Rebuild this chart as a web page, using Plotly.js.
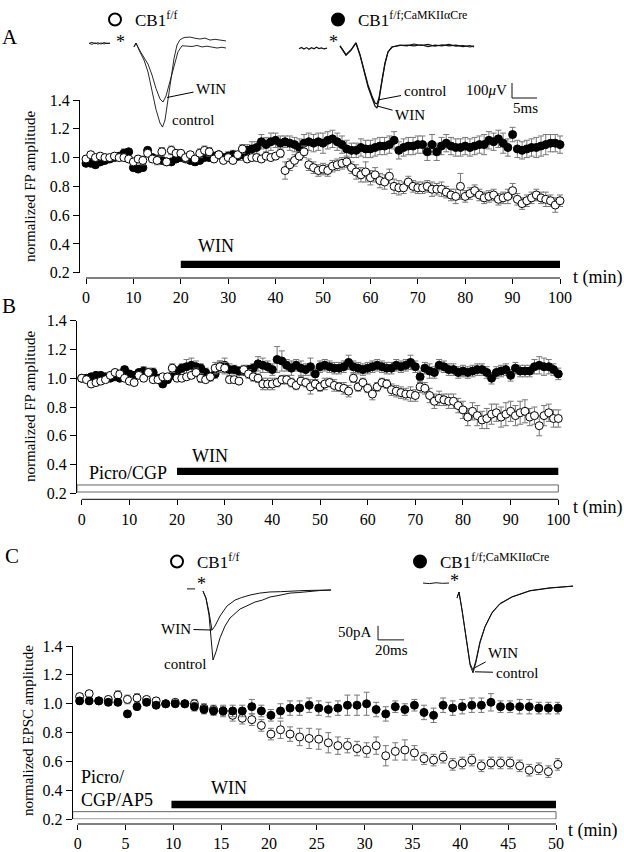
<!DOCTYPE html>
<html><head><meta charset="utf-8">
<script src="https://cdn.plot.ly/plotly-3.0.1.min.js"></script>
<style>html,body{margin:0;padding:0;background:#fff}#chart{width:624px;height:852px}</style>
</head><body><div id="chart"></div>
<script>
// ================= DATA =================
const timeAB = [0,1,2,3,4,5,6,7,8,9,10,11,12,13,14,15,16,17,18,19,20,21,22,23,24,25,26,27,28,29,30,31,32,33,34,35,36,37,38,39,40,41,42,43,44,45,46,47,48,49,50,51,52,53,54,55,56,57,58,59,60,61,62,63,64,65,66,67,68,69,70,71,72,73,74,75,76,77,78,79,80,81,82,83,84,85,86,87,88,89,90,91,92,93,94,95,96,97,98,99,100];
const timeC = [0.2,1.2,2.2,3.2,4.2,5.2,6.2,7.2,8.2,9.2,10.2,11.2,12.2,13.2,14.2,15.2,16.2,17.2,18.2,19.2,20.2,21.2,22.2,23.2,24.2,25.2,26.2,27.2,28.2,29.2,30.2,31.2,32.2,33.2,34.2,35.2,36.2,37.2,38.2,39.2,40.2,41.2,42.2,43.2,44.2,45.2,46.2,47.2,48.2,49.2,50.2];

// Panel A (normalized FP amplitude)
const openA = [0.99,1.02,1.0,1.01,1.0,1.0,1.01,1.0,1.0,0.99, 0.97,0.99,0.98,1.03,0.99,0.98,1.04,0.97,1.05,1.03, 1.03,1.0,1.02,0.99,1.03,1.05,1.04,0.99,1.02,0.98, 1.0,0.98,1.02,1.06,0.99,1.0,1.0,0.99,1.01,1.0, 1.01,1.03,0.91,0.95,0.98,1.01,1.04,0.95,0.93,0.91, 0.92,0.91,0.94,0.95,0.96,0.97,0.93,0.90,0.88,0.90, 0.86,0.88,0.84,0.83,0.87,0.80,0.79,0.79,0.83,0.80, 0.79,0.79,0.80,0.78,0.78,0.78,0.76,0.74,0.73,0.80, 0.73,0.75,0.77,0.74,0.72,0.73,0.74,0.71,0.72,0.73, 0.77,0.71,0.68,0.70,0.72,0.74,0.72,0.71,0.70,0.67, 0.70];
const openAErr = [0.02,0.02,0.02,0.02,0.02,0.02,0.02,0.02,0.02,0.02, 0.02,0.02,0.03,0.02,0.02,0.03,0.03,0.02,0.03,0.02, 0.02,0.03,0.02,0.02,0.03,0.03,0.03,0.02,0.02,0.02, 0.02,0.02,0.02,0.03,0.02,0.02,0.02,0.02,0.02,0.02, 0.02,0.03,0.06,0.04,0.04,0.03,0.04,0.04,0.04,0.04, 0.04,0.04,0.04,0.04,0.04,0.04,0.04,0.05,0.05,0.07, 0.05,0.05,0.05,0.05,0.05,0.05,0.05,0.04,0.04,0.04, 0.04,0.04,0.04,0.05,0.04,0.05,0.04,0.04,0.05,0.09, 0.04,0.04,0.04,0.04,0.04,0.04,0.04,0.04,0.04,0.05, 0.05,0.04,0.04,0.04,0.04,0.04,0.04,0.05,0.04,0.05, 0.04];
const filledA = [0.96,0.96,0.95,0.97,0.98,0.99,1.0,1.01,1.03,1.04, 0.93,0.92,0.93,1.05,1.0,0.99,0.98,0.97,0.97,0.99, 1.0,0.99,0.98,0.97,0.98,1.0,1.0,1.01,1.02,1.0, 1.01,1.02,1.01,1.02,1.05,1.06,1.07,1.11,1.09,1.11, 1.12,1.10,1.11,1.10,1.09,1.07,1.10,1.11,1.10,1.11, 1.10,1.12,1.13,1.11,1.09,1.06,1.05,1.05,1.07,1.06, 1.06,1.07,1.08,1.08,1.09,1.12,1.05,1.07,1.08,1.08, 1.09,1.09,1.04,1.09,1.04,1.08,1.10,1.08,1.07,1.07, 1.08,1.07,1.08,1.09,1.09,1.12,1.11,1.13,1.10,1.07, 1.16,1.06,1.05,1.06,1.07,1.07,1.08,1.09,1.10,1.10, 1.09];
const filledAErr = [0.02,0.02,0.02,0.02,0.02,0.02,0.02,0.02,0.03,0.02, 0.02,0.02,0.02,0.02,0.02,0.02,0.02,0.02,0.02,0.02, 0.02,0.02,0.02,0.02,0.02,0.02,0.02,0.02,0.02,0.02, 0.03,0.03,0.03,0.04,0.04,0.05,0.04,0.05,0.05,0.06, 0.05,0.05,0.04,0.05,0.05,0.06,0.06,0.06,0.06,0.06, 0.07,0.06,0.06,0.06,0.06,0.06,0.05,0.05,0.06,0.06, 0.06,0.06,0.06,0.06,0.06,0.06,0.06,0.06,0.06,0.06, 0.06,0.06,0.06,0.07,0.06,0.06,0.06,0.06,0.06,0.06, 0.06,0.06,0.06,0.06,0.07,0.06,0.06,0.06,0.07,0.06, 0.05,0.06,0.06,0.06,0.06,0.07,0.07,0.07,0.06,0.06, 0.06];

// Panel B (normalized FP amplitude, Picro/CGP)
const openB = [1.0,0.99,0.96,0.97,0.98,0.99,1.02,1.04,1.03,1.0, 0.98,0.97,1.02,1.0,1.04,0.99,0.99,1.01,1.01,1.07, 1.0,1.0,1.01,1.02,1.04,1.0,0.99,1.01,1.07,1.08, 1.07,0.99,0.99,0.98,1.06,1.03,1.01,1.0,0.96,0.96, 0.96,0.97,0.99,0.99,0.97,0.95,0.98,0.97,0.94,0.96, 0.94,0.96,0.97,0.95,0.94,0.93,0.91,1.0,0.94,0.97, 0.93,0.89,0.94,0.97,0.96,0.92,0.91,0.90,0.89,0.89, 0.88,0.94,0.93,0.88,0.84,0.86,0.85,0.84,0.84,0.81, 0.78,0.73,0.77,0.74,0.71,0.72,0.75,0.76,0.73,0.75, 0.77,0.74,0.76,0.77,0.73,0.74,0.67,0.74,0.76,0.72, 0.72];
const openBErr = [0.02,0.02,0.02,0.02,0.02,0.02,0.02,0.02,0.02,0.02, 0.02,0.02,0.02,0.02,0.03,0.02,0.02,0.02,0.02,0.03, 0.02,0.02,0.02,0.02,0.03,0.03,0.02,0.02,0.04,0.04, 0.04,0.02,0.02,0.02,0.03,0.03,0.03,0.03,0.04,0.04, 0.04,0.03,0.03,0.03,0.03,0.03,0.03,0.03,0.05,0.03, 0.03,0.04,0.03,0.04,0.03,0.04,0.04,0.03,0.03,0.03, 0.03,0.04,0.03,0.03,0.03,0.04,0.04,0.04,0.04,0.05, 0.04,0.04,0.04,0.05,0.05,0.05,0.04,0.05,0.05,0.05, 0.06,0.06,0.06,0.07,0.06,0.07,0.07,0.06,0.07,0.08, 0.07,0.07,0.08,0.08,0.06,0.06,0.07,0.07,0.06,0.06, 0.06];
const filledB = [1.0,1.0,1.01,1.02,1.02,1.01,1.0,1.01,1.0,1.06, 1.03,1.02,1.04,1.05,1.04,1.04,1.0,0.96,0.99,1.02, 1.05,1.07,1.08,1.09,1.08,1.07,1.04,1.01,1.03,1.08, 1.09,1.06,1.06,1.05,1.05,1.06,1.07,1.10,1.09,1.08, 1.06,1.13,1.12,1.09,1.07,1.09,1.07,1.06,1.08,1.03, 1.08,1.09,1.08,1.07,1.07,1.08,1.11,1.08,1.07,1.06, 1.07,1.08,1.09,1.08,1.07,1.07,1.09,1.08,1.09,1.11, 1.08,1.01,1.07,1.05,1.04,1.09,1.08,1.06,1.06,1.04, 1.05,1.04,1.05,1.06,1.06,1.04,1.0,1.04,1.05,1.06, 1.02,1.07,1.05,1.05,1.05,1.08,1.09,1.08,1.08,1.06, 1.03];
const filledBErr = [0.02,0.02,0.02,0.02,0.02,0.02,0.02,0.02,0.02,0.02, 0.02,0.02,0.02,0.03,0.02,0.03,0.02,0.02,0.02,0.02, 0.03,0.03,0.05,0.05,0.04,0.03,0.03,0.03,0.03,0.04, 0.05,0.04,0.03,0.03,0.03,0.03,0.03,0.05,0.05,0.04, 0.04,0.09,0.07,0.04,0.05,0.04,0.05,0.04,0.06,0.04, 0.04,0.04,0.04,0.04,0.04,0.04,0.05,0.04,0.04,0.04, 0.04,0.04,0.04,0.04,0.04,0.04,0.04,0.04,0.04,0.05, 0.04,0.04,0.04,0.05,0.04,0.04,0.04,0.04,0.04,0.04, 0.04,0.04,0.04,0.04,0.04,0.04,0.04,0.04,0.04,0.04, 0.04,0.04,0.04,0.04,0.04,0.05,0.06,0.06,0.05,0.04, 0.04];

// Panel C (normalized EPSC amplitude, Picro/CGP/AP5)
const openC = [1.05,1.07,1.02,1.03,1.06,1.03,1.04,1.03,1.02,1.0, 1.01,1.0,1.0,0.97,0.96,0.95,0.92,0.90,0.89,0.85, 0.79,0.82,0.79,0.77,0.76,0.755,0.73,0.71,0.71,0.69, 0.68,0.71,0.64,0.67,0.68,0.66,0.62,0.61,0.63,0.58, 0.59,0.61,0.57,0.59,0.59,0.59,0.57,0.54,0.55,0.53, 0.58];
const openCErr = [0.02,0.02,0.02,0.02,0.03,0.03,0.03,0.02,0.02,0.02, 0.02,0.02,0.03,0.03,0.03,0.04,0.04,0.04,0.04,0.04, 0.04,0.06,0.05,0.06,0.07,0.07,0.07,0.06,0.05,0.05, 0.05,0.06,0.07,0.06,0.07,0.05,0.04,0.04,0.04,0.04, 0.04,0.04,0.04,0.04,0.04,0.04,0.04,0.04,0.04,0.04, 0.04];
const filledC = [1.02,1.02,1.02,1.01,1.01,0.93,0.98,1.01,0.99,1.0, 1.0,1.0,0.98,0.96,0.95,0.95,0.95,0.95,0.98,0.95, 0.92,0.95,0.97,0.97,0.99,0.97,0.96,0.97,0.99,0.99, 1.0,0.96,0.93,0.98,0.96,0.99,0.94,0.92,0.99,0.97, 0.98,0.99,0.99,1.01,0.98,0.98,0.98,0.98,0.97,0.97, 0.97];
const filledCErr = [0.02,0.02,0.02,0.02,0.02,0.02,0.02,0.02,0.02,0.02, 0.02,0.02,0.03,0.03,0.03,0.03,0.04,0.04,0.05,0.04, 0.04,0.05,0.05,0.05,0.05,0.05,0.05,0.05,0.07,0.07, 0.08,0.05,0.05,0.04,0.04,0.04,0.05,0.05,0.05,0.05, 0.05,0.05,0.05,0.06,0.04,0.04,0.05,0.05,0.04,0.04, 0.04];

// drug application periods (min) and bar levels
const winA = [20, 100], winBarA = [0.233, 0.283];
const winB = [20, 100], winBarB = [0.327, 0.378], picroBarB = [0.209, 0.258];
const winC = [9.8, 50], winBarC = [0.276, 0.329], picroBarC = [0.202, 0.253];

// Example traces. Panel A: time (ms) vs field potential (uV); Panel C: time (ms) vs current (pA)
const aLeftCtrlT = [0,0.6,1.2,1.8,2.4,3.0,3.6,4.2,null,9.0,9.4,10.2,11.0,11.8,12.6,13.4,14.2,14.7,15.2,15.8,16.4,17.0,17.6,18.2,19.0,20.2,21.2,22.2,23.2,24.2,25.2,26.2,27.4];
const aLeftCtrlV = [10,18,8,16,6,17,9,13,null,-13,13,-47,-100,-180,-300,-430,-520,-547,-500,-370,-220,-90,0,35,50,53,45,40,46,33,38,33,27];
const aLeftWinT = [0,0.6,1.2,1.8,2.4,3.0,3.6,4.2,null,9.0,9.4,10.2,11.0,11.8,12.6,13.4,14.2,14.8,15.4,16.2,17.0,17.8,18.6,19.6,20.6,21.6,22.6,23.6,24.6,25.6,26.6,27.4];
const aLeftWinV = [12,4,15,5,14,7,13,10,null,-13,13,-40,-80,-127,-200,-290,-360,-380,-340,-240,-130,-45,-5,-5,-10,-3,-13,-8,-13,-20,-15,-20];
const aRightCtrlT = [0,0.5,1.0,1.5,2.0,2.5,3.0,3.5,4.0,4.5,5.0,5.6,null,8.2,9.4,10.4,11.4,12.2,13.0,13.8,14.6,15.2,15.6,16.0,16.6,17.2,17.8,18.6,20.2,21.6,23.0,24.4,25.8,27.2,28.6,30.0,31.4,32.8,34.2,35.0];
const aRightCtrlV = [-12,-3,-14,-4,-15,-5,-12,-2,-10,-6,-13,-8,null,7,-53,-20,27,-53,-153,-253,-327,-373,-380,-340,-220,-107,-33,0,13,7,20,10,17,5,15,8,13,3,10,0];
const aRightWinT = [8.2,9.4,10.4,11.4,12.2,13.0,13.8,14.6,15.2,15.6,16.0,16.6,17.2,17.8,18.6,20.2,21.6,23.0,24.4,25.8,27.2,28.6,30.0,31.4,32.8,34.2,35.0];
const aRightWinV = [7,-53,-20,27,-53,-160,-265,-340,-393,-407,-353,-227,-110,-33,0,10,13,7,15,3,12,8,17,5,10,0,7];
const cLeftCtrlT = [0,6.2,null,12.3,14.6,16.9,18.5,20,22.3,25.4,29.2,33.1,40.8,46,52.3,58,63.8,70,79.2,86,94.6,102,110.8];
const cLeftCtrlV = [4,4,null,-4,-29,-89,-179,-250,-221,-171,-129,-100,-68,-57,-43,-36,-25,-20,-11,-9,-4,-2,0];
const cLeftWinT = [12.3,14.6,16.9,19.2,21.5,25.4,30.8,36.9,42,48.5,56,63.8,72,79.2,90,100,110.8];
const cLeftWinV = [-4,-29,-79,-143,-129,-93,-57,-36,-27,-18,-11,-7,-6,-4,-2,-1,0];
const cRightCtrlT = [0,5,10,15,20,null,26.2,27.7,30,33.1,36.2,38.5,40.8,43.8,47.7,53.1,59.2,68.5,82.3,97.7,115.4];
const cRightCtrlV = [7,5,8,6,7,null,-46,-25,-89,-196,-286,-314,-275,-207,-150,-100,-68,-43,-21,-11,-4];
const cRightWinT = [26.2,27.7,30,33.1,36.2,38.5,40.8,43.8,47.7,53.1,59.2,68.5,82.3,97.7,115.4];
const cRightWinV = [-46,-25,-89,-193,-280,-305,-268,-203,-148,-98,-66,-42,-20,-10,-4];
// scale bars: 5 ms / 100 uV (A), 20 ms / 50 pA (C)
const scaleAT = [42.6,42.6,47.6], scaleAV = [-240,-340,-340];
const scaleCT = [-34.6,-34.6,-14.6], scaleCV = [-146,-196,-196];

const nameOpen = 'CB1<sup>f/f</sup>';
const nameFilled = 'CB1<sup>f/f;CaMKIIαCre</sup>';

// ================= LAYOUT GEOMETRY =================
const W = 624, H = 852;
const px = x => x / W, py = y => 1 - y / H;
const FONT = 'Liberation Serif, Times New Roman, serif';
const F = (size) => ({family: FONT, size: size, color: '#000'});

function panel(g, xMax, dt) {
  const ppu = (g.xEnd - g.x0) / xMax;
  return {
    x: {domain: [px(g.left), px(g.right)], range: [(g.left - g.x0) / ppu, (g.right - g.x0) / ppu],
        anchor: 'free', position: py(g.axisY), showline: false, ticks: 'outside', ticklen: 5,
        tickwidth: 1, tickcolor: '#000', tick0: 0, dtick: dt, showgrid: false, zeroline: false,
        tickfont: F(16), ticklabelstandoff: 0, fixedrange: true},
    y: {domain: [py(g.yBot), py(g.yTop)], range: [0.2, 1.4], showline: true, linecolor: '#000',
        linewidth: 1, ticks: 'outside', ticklen: 6, tickwidth: 1, tickcolor: '#000', tick0: 0.2, dtick: 0.2,
        tickformat: '.1f', showgrid: false, zeroline: false, tickfont: F(16), fixedrange: true}
  };
}
const gA = {left: 80, right: 565, x0: 86, xEnd: 560, yTop: 100, yBot: 272.7, axisY: 278};
const gB = {left: 77, right: 563, x0: 81.7, xEnd: 558.3, yTop: 320.7, yBot: 493.3, axisY: 499.3};
const gC = {left: 72.7, right: 560, x0: 77.7, xEnd: 556, yTop: 646, yBot: 819.3, axisY: 824};
const pA = panel(gA, 100, 10), pB = panel(gB, 100, 10), pC = panel(gC, 50, 5);

function inset(ox, oy, sx, sy) {
  return {
    x: {domain: [0, 1], range: [(0 - ox) / sx, (W - ox) / sx], visible: false, fixedrange: true},
    y: {domain: [0, 1], range: [-(H - oy) / sy, oy / sy], visible: false, fixedrange: true}
  };
}
const iAL = inset(89, 45, 5, 0.15), iAR = inset(299, 47, 5, 0.15);
const iCL = inset(187, 590, 1.3, 0.28), iCR = inset(423, 585, 1.3, 0.28);

// ================= TRACES =================
const openMk = {symbol: 'circle', size: 8, color: '#fff', line: {color: '#000', width: 1}};
const fillMk = {symbol: 'circle', size: 8, color: '#000', line: {color: '#000', width: 1}};
function errb(a) { return {type: 'data', array: a, visible: true, color: '#777', thickness: 1, width: 3}; }
function pts(x, y, e, mk, xa, ya, name, show, leg, rank) {
  return {type: 'scatter', mode: 'markers', x: x, y: y, error_y: errb(e), marker: mk, xaxis: xa, yaxis: ya,
          name: name, showlegend: show, legend: leg, legendrank: rank, cliponaxis: false, hoverinfo: 'skip'};
}
function wave(x, y, xa, ya, w) {
  return {type: 'scatter', mode: 'lines', x: x, y: y, xaxis: xa, yaxis: ya, showlegend: false,
          line: {color: '#111', width: w || 1}, hoverinfo: 'skip', connectgaps: false};
}
const data = [
  pts(timeAB, filledA, filledAErr, fillMk, 'x', 'y', nameFilled, true, 'legend', 2),
  pts(timeAB, openA, openAErr, openMk, 'x', 'y', nameOpen, true, 'legend', 1),
  pts(timeAB, filledB, filledBErr, fillMk, 'x2', 'y2', nameFilled, false, 'legend', 2),
  pts(timeAB, openB, openBErr, openMk, 'x2', 'y2', nameOpen, false, 'legend', 1),
  pts(timeC, openC, openCErr, openMk, 'x3', 'y3', nameOpen, true, 'legend2', 1),
  pts(timeC, filledC, filledCErr, fillMk, 'x3', 'y3', nameFilled, true, 'legend2', 2),
  wave(aLeftCtrlT, aLeftCtrlV, 'x4', 'y4', 0.9),
  wave(aLeftWinT, aLeftWinV, 'x4', 'y4', 0.9),
  wave(aRightCtrlT, aRightCtrlV, 'x5', 'y5', 1.2),
  wave(aRightWinT, aRightWinV, 'x5', 'y5', 1.2),
  wave(scaleAT, scaleAV, 'x5', 'y5', 1),
  wave(cLeftCtrlT, cLeftCtrlV, 'x6', 'y6', 1),
  wave(cLeftWinT, cLeftWinV, 'x6', 'y6', 1),
  wave(cRightCtrlT, cRightCtrlV, 'x7', 'y7', 1),
  wave(cRightWinT, cRightWinV, 'x7', 'y7', 1),
  wave(scaleCT, scaleCV, 'x7', 'y7', 1)
];

// ================= SHAPES =================
const shapes = [];
function axisLine(xref, x1, yPix) {
  shapes.push({type: 'line', xref: xref, yref: 'paper', x0: 0, x1: x1, y0: py(yPix), y1: py(yPix), line: {color: '#000', width: 1}});
}
axisLine('x', 100, gA.axisY); axisLine('x2', 100, gB.axisY); axisLine('x3', 50, gC.axisY);
function bar(xref, yref, xr, yr, filled) {
  shapes.push({type: 'rect', xref: xref, yref: yref, x0: xr[0], x1: xr[1], y0: yr[0], y1: yr[1],
    fillcolor: filled ? '#000' : '#fff', line: {color: filled ? '#000' : '#666', width: filled ? 0 : 1}, layer: 'below'});
}
bar('x', 'y', winA, winBarA, true);
bar('x2', 'y2', winB, winBarB, true);
bar('x2', 'y2', [pB.x.range[0], winB[1]], picroBarB, false);
bar('x3', 'y3', winC, winBarC, true);
bar('x3', 'y3', [pC.x.range[0], winC[1]], picroBarC, false);

// ================= ANNOTATIONS =================
const ann = [];
function T(text, x, y, o) {
  ann.push(Object.assign({text: text, x: x, y: y, xref: 'paper', yref: 'paper', showarrow: false,
    font: F(16), xanchor: 'center', yanchor: 'middle'}, o || {}));
}
function D(text, xa, ya, x, y, size, o) {
  ann.push(Object.assign({text: text, x: x, y: y, xref: xa, yref: ya, showarrow: false, font: F(size)}, o || {}));
}
function lead(text, xa, ya, x, y, ax, ay, size) {
  ann.push({text: text, x: x, y: y, xref: xa, yref: ya, showarrow: true, arrowhead: 0, arrowwidth: 1,
    arrowcolor: '#000', ax: ax, ay: ay, standoff: 0, startstandoff: 1, font: F(size || 15)});
}
// panel letters
T('A', px(10), py(37), {font: F(21)});
T('B', px(9), py(306), {font: F(21)});
T('C', px(12), py(556), {font: F(21)});
// y titles
T('normalized FP amplitude', px(30), py(187), {textangle: -90, font: F(15)});
T('normalized FP amplitude', px(30), py(407), {textangle: -90, font: F(15)});
T('normalized EPSC amplitude', px(28), py(731), {textangle: -90, font: F(15)});
// x titles
T('t (min)', px(598), py(278), {font: F(18)});
T('t (min)', px(598), py(508), {font: F(18)});
T('t (min)', px(593), py(830), {font: F(18)});
// drug labels (data coordinates)
D('WIN', 'x', 'y', 27.4, 0.385, 18);
D('WIN', 'x2', 'y2', 27, 0.46, 18);
D('Picro/CGP', 'x2', 'y2', 9.7, 0.34, 18);
D('WIN', 'x3', 'y3', 15.8, 0.42, 18);
D('Picro/<br>CGP/AP5', 'x3', 'y3', 0.1, 0.41, 18, {align: 'left', xanchor: 'left'});
// inset labels
lead('WIN', 'x4', 'y4', 15.6, -350, 44, -9);
D('control', 'x4', 'y4', 20.8, -500, 15);
D('*', 'x4', 'y4', 6.2, 20, 18);
lead('control', 'x5', 'y5', 15.8, -353, 47, -9);
lead('WIN', 'x5', 'y5', 15.6, -393, 33, 9);
D('*', 'x5', 'y5', 6.8, 33, 18);
D('100<i>μ</i>V', 'x5', 'y5', 42.0, -287, 15, {xanchor: 'right'});
D('5ms', 'x5', 'y5', 45.2, -407, 15);
lead('WIN', 'x6', 'y6', 19.2, -143, -36, -1);
D('control', 'x6', 'y6', -0.8, -264, 15);
D('*', 'x6', 'y6', 10.8, 21, 18);
lead('WIN', 'x7', 'y7', 40, -295, 28, -15);
lead('control', 'x7', 'y7', 40, -310, 42, 1);
D('*', 'x7', 'y7', 24.6, 14, 18);
D('50pA', 'x7', 'y7', -37.7, -168, 15, {xanchor: 'right'});
D('20ms', 'x7', 'y7', -24.6, -232, 15);

const legendBase = {orientation: 'h', xanchor: 'left', yanchor: 'top', bgcolor: 'rgba(0,0,0,0)', borderwidth: 0,
  font: F(17), itemsizing: 'constant', entrywidthmode: 'pixels', itemclick: false, itemdoubleclick: false};

const layout = {
  width: W, height: H, margin: {l: 0, r: 0, t: 0, b: 0, autoexpand: false}, paper_bgcolor: '#fff', plot_bgcolor: 'rgba(0,0,0,0)',
  font: F(16), showlegend: true,
  legend: Object.assign({}, legendBase, {x: px(95), y: py(2), entrywidth: 178}),
  legend2: Object.assign({}, legendBase, {x: px(157), y: py(544), entrywidth: 198}),
  xaxis: pA.x, yaxis: Object.assign(pA.y, {anchor: 'x'}),
  xaxis2: pB.x, yaxis2: Object.assign(pB.y, {anchor: 'x2'}),
  xaxis3: pC.x, yaxis3: Object.assign(pC.y, {anchor: 'x3'}),
  xaxis4: Object.assign(iAL.x, {anchor: 'y4'}), yaxis4: Object.assign(iAL.y, {anchor: 'x4'}),
  xaxis5: Object.assign(iAR.x, {anchor: 'y5'}), yaxis5: Object.assign(iAR.y, {anchor: 'x5'}),
  xaxis6: Object.assign(iCL.x, {anchor: 'y6'}), yaxis6: Object.assign(iCL.y, {anchor: 'x6'}),
  xaxis7: Object.assign(iCR.x, {anchor: 'y7'}), yaxis7: Object.assign(iCR.y, {anchor: 'x7'}),
  shapes: shapes, annotations: ann
};
Plotly.newPlot('chart', data, layout, {displayModeBar: false, staticPlot: true});
</script></body></html>
